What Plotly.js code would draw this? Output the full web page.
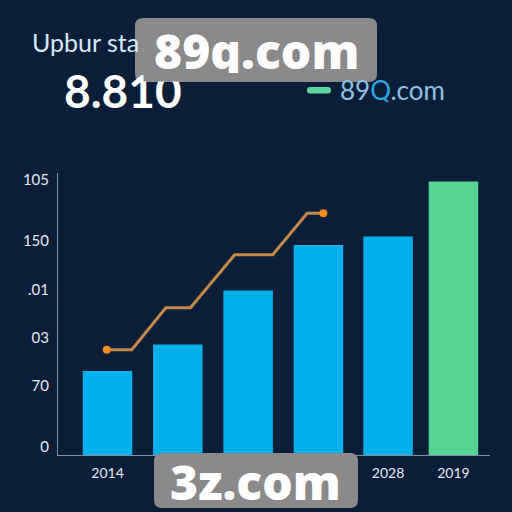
<!DOCTYPE html>
<html><head><meta charset="utf-8">
<script src="https://cdn.plot.ly/plotly-3.0.1.min.js"></script>
<style>html,body{margin:0;padding:0;background:#0b1e39}#c{width:512px;height:512px}</style></head>
<body><div id="c"></div>
<script>
const barSlots = [0, 1, 2, 3, 3.99, 4.92];
const barValues = [84, 110.5, 164.5, 210, 218.5, 273.5];
const barColors = ['#02b0ea','#02b0ea','#02b0ea','#02b0ea','#02b0ea','#56d492'];
const lineSlots = [-0.01, 0.345, 0.83, 1.18, 1.81, 2.35, 2.84, 3.07];
const lineValues = [105.3, 105.3, 147.3, 147.3, 200.3, 200.3, 241.7, 241.7];
const lineMarkerSizes = [8, 0, 0, 0, 0, 0, 0, 8];
const xTickSlots = [0, 3.99, 4.92];
const xTickLabels = ['2014', '2028', '2019'];
const yTickValues = [8, 69, 117, 165, 214, 275];
const yTickLabels = ['0', '70', '03', '.01', '150', '105'];

const font = 'Lato, "Noto Sans", sans-serif';
const L = 58, R = 490, T = 173, B = 455;
const px = x => (x - L) / (R - L);
const py = y => (B - y) / (B - T);
function roundRect(x0, y0, x1, y1, r) {
  const X0 = px(x0), X1 = px(x1), Y0 = py(y0), Y1 = py(y1);
  const rx = r / (R - L), ry = r / (B - T);
  return `M${X0 + rx},${Y0} L${X1 - rx},${Y0} Q${X1},${Y0} ${X1},${Y0 - ry} L${X1},${Y1 + ry} Q${X1},${Y1} ${X1 - rx},${Y1} L${X0 + rx},${Y1} Q${X0},${Y1} ${X0},${Y1 + ry} L${X0},${Y0 - ry} Q${X0},${Y0} ${X0 + rx},${Y0} Z`;
}
const note = (x, y, text, size, color, extra) => Object.assign({
  xref: 'paper', yref: 'paper', x: px(x), y: py(y), text, showarrow: false,
  xanchor: 'left', yanchor: 'middle', font: {family: font, size, color}
}, extra || {});
const stamp = {family: '"Open Sans", sans-serif', size: 48, color: '#ffffff', weight: 800};

const traces = [
  {type: 'bar', x: barSlots, y: barValues, width: 0.704, marker: {color: barColors, line: {width: 0}}, hoverinfo: 'skip'},
  {type: 'scatter', mode: 'lines+markers', x: lineSlots, y: lineValues,
   line: {color: '#c48a45', width: 3}, marker: {color: '#f08c1e', size: lineMarkerSizes, opacity: 1, line: {width: 0}}, hoverinfo: 'skip'}
];
const layout = {
  width: 512, height: 512, showlegend: false,
  paper_bgcolor: '#0b1e39', plot_bgcolor: '#0b1e39',
  margin: {l: L, r: 512 - R, t: T, b: 512 - B, pad: 0},
  font: {family: font, color: '#e3ebf3', size: 14},
  xaxis: {range: [-0.704, 5.44], tickmode: 'array', tickvals: xTickSlots, ticktext: xTickLabels,
    showgrid: false, zeroline: false, showline: true, linecolor: '#7d90a8', linewidth: 1,
    ticks: '', tickfont: {family: font, size: 14, color: '#e3ebf3'}, ticklabelstandoff: 5},
  yaxis: {range: [0, 282], tickmode: 'array', tickvals: yTickValues, ticktext: yTickLabels,
    showgrid: false, zeroline: false, showline: true, linecolor: '#7d90a8', linewidth: 1,
    ticks: '', tickfont: {family: font, size: 15, color: '#e3ebf3'}, ticklabelstandoff: 5},
  shapes: [
    {type: 'path', xref: 'paper', yref: 'paper', layer: 'above', path: roundRect(307, 87, 331, 93.5, 3), fillcolor: '#5ed59a', line: {width: 0}},
    {type: 'path', xref: 'paper', yref: 'paper', layer: 'above', path: roundRect(135, 18, 377, 82, 8), fillcolor: '#8a8a8a', line: {width: 0}},
    {type: 'path', xref: 'paper', yref: 'paper', layer: 'above', path: roundRect(154, 453, 358, 508, 8), fillcolor: '#8a8a8a', line: {width: 0}}
  ],
  annotations: [
    note(30, 42, 'Upbur sta', 25, '#d6e9f6'),
    note(62, 91, '8.810', 46, '#ffffff', {font: {family: font, size: 46, color: '#ffffff', weight: 700}}),
    note(143, 75, '&nbsp;', 8, '#8a8a8a', {width: 52, height: 12, bgcolor: '#8a8a8a', borderpad: 0}),
    note(338, 90, '<span style="color:#8fc0e0">89</span><span style="color:#2aa5e0">Q</span><span style="color:#8fc0e0">.com</span>', 26, '#8fc0e0', {height: 24}),
    note(256, 50, '89q.com', 48, '#ffffff', {xanchor: 'center', height: 46, font: stamp}),
    note(255, 481, '3z.com', 48, '#ffffff', {xanchor: 'center', height: 46, font: stamp})
  ]
};
Plotly.newPlot('c', traces, layout, {displayModeBar: false, staticPlot: true});
</script></body></html>
